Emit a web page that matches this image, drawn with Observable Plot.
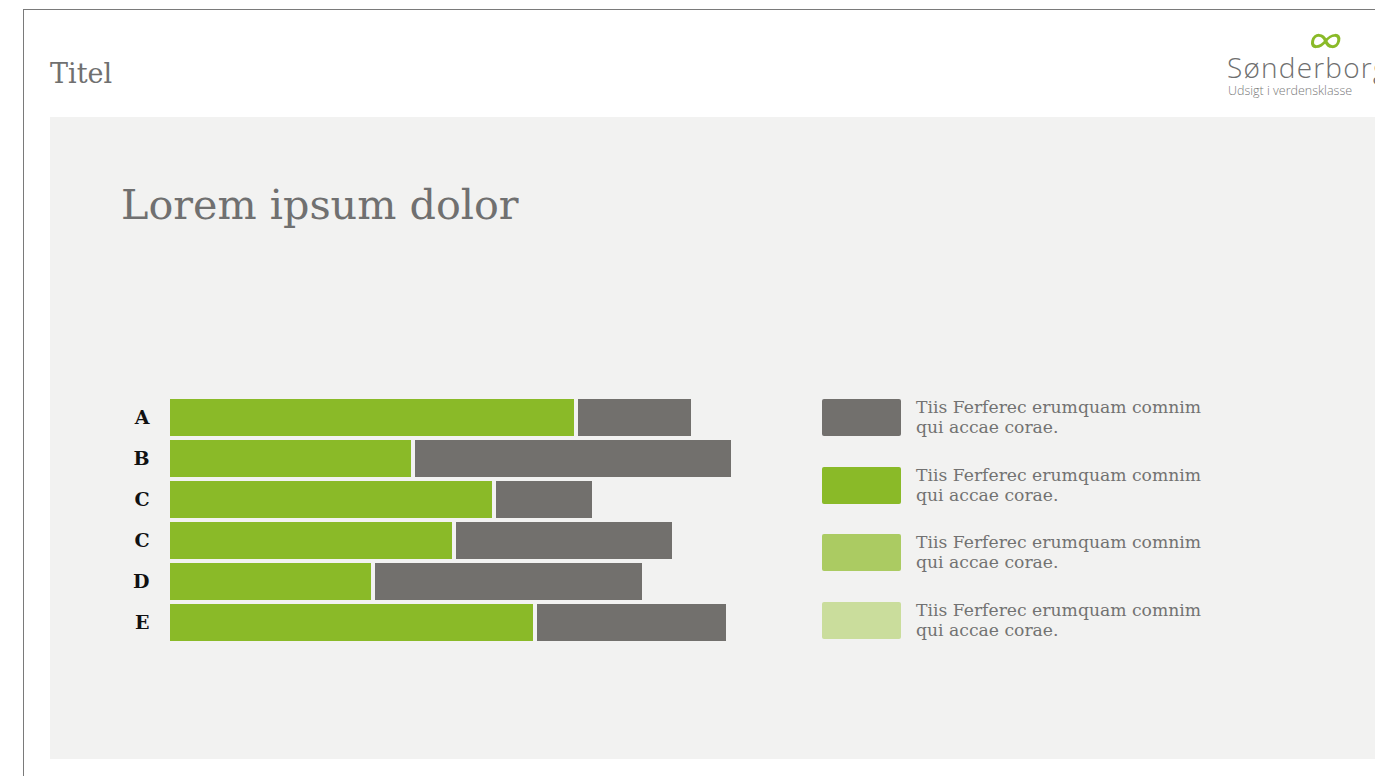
<!DOCTYPE html>
<html>
<head>
<meta charset="utf-8">
<script src="https://cdn.jsdelivr.net/npm/d3@7"></script>
<script src="https://cdn.jsdelivr.net/npm/@observablehq/plot@0.6"></script>
<style>
  html, body { margin: 0; padding: 0; background: #fff; overflow: hidden; }
  #page { position: relative; width: 1375px; height: 776px; overflow: hidden; font-family: "DejaVu Serif", serif; }
  .abs { position: absolute; }
  #frameTop { left: 23px; top: 9px; width: 1400px; height: 0; border-top: 1.5px solid #7a7a7a; }
  #frameLeft { left: 23px; top: 9px; width: 0; height: 800px; border-left: 1.5px solid #7a7a7a; }
  #panel { left: 50px; top: 117px; width: 1340px; height: 642px; background: #f2f2f1; }
  #titel { left: 50px; top: 60px; font-size: 27px; color: #707070; line-height: 1; }
  #heading { left: 121px; top: 185px; font-size: 41.3px; color: #707070; line-height: 1; }
  #logo-name { left: 1227px; top: 53px; font-family: "Open Sans", sans-serif; font-weight: 300; font-size: 28px; letter-spacing: 1.2px; color: #6f6f6f; line-height: 1; white-space: nowrap; }
  #logo-sub { left: 1228px; top: 85px; font-family: "Open Sans", sans-serif; font-weight: 300; font-size: 12.5px; color: #7a7a7a; line-height: 1; white-space: nowrap; }
  #chart { left: 120px; top: 389px; }
  .sw { position: absolute; left: 822px; width: 79px; height: 37px; border-radius: 2px; }
  .lt { position: absolute; left: 916px; font-size: 17.2px; line-height: 20px; color: #727272; white-space: nowrap; }
</style>
</head>
<body>
<div id="page">
  <div id="frameTop" class="abs"></div>
  <div id="frameLeft" class="abs"></div>
  <div id="panel" class="abs"></div>
  <div id="titel" class="abs">Titel</div>
  <svg class="abs" style="left:1305px;top:30px" width="44" height="22" viewBox="0 0 44 22">
    <g transform="translate(4,0) skewX(-12)">
      <path d="M19,11 C15,4 6,3 6,11 C6,19 15,18 19,11 C23,4 32,3 32,11 C32,19 23,18 19,11 Z" fill="none" stroke="#8aba28" stroke-width="3"/>
    </g>
  </svg>
  <div id="logo-name" class="abs">Sønderborg</div>
  <div id="logo-sub" class="abs">Udsigt i verdensklasse</div>
  <div id="heading" class="abs">Lorem ipsum dolor</div>
  <div id="chart" class="abs"></div>
  <div id="legend"></div>
</div>
<script>
const categories = ["A", "B", "C", "C", "D", "E"];
const greenValues = [80.8, 48.2, 64.4, 56.4, 40.2, 72.6];
const grayValues = [23.4, 64, 20, 44, 54.2, 38.6];
const legendLabels = [
  ["Tiis Ferferec erumquam comnim", "qui accae corae."],
  ["Tiis Ferferec erumquam comnim", "qui accae corae."],
  ["Tiis Ferferec erumquam comnim", "qui accae corae."],
  ["Tiis Ferferec erumquam comnim", "qui accae corae."]
];

const GREEN = "#8aba28";
const GRAY = "#72706d";
const legendColors = [GRAY, GREEN, "#abcb62", "#cadd9c"];

const rows = categories.map((c, i) => ({i, cat: c, green: greenValues[i], gray: grayValues[i]}));

const chart = Plot.plot({
  width: 680,
  height: 262,
  marginLeft: 50,
  marginRight: 30,
  marginTop: 5,
  marginBottom: 6,
  style: {background: "transparent", fontFamily: "DejaVu Serif, serif", overflow: "visible"},
  x: {domain: [0, 120], axis: null},
  y: {domain: d3.range(categories.length), padding: 0.1, axis: null},
  marks: [
    Plot.barX(rows, {y: "i", x1: 0, x2: "green", fill: GREEN}),
    Plot.barX(rows, {y: "i", x1: "green", x2: d => d.green + d.gray, fill: GRAY, insetLeft: 4}),
    Plot.axisY({
      label: null,
      tickSize: 0,
      tickPadding: 21,
      fontSize: 19,
      fontWeight: "bold",
      fill: "#111",
      tickFormat: i => categories[i]
    })
  ]
});
document.getElementById("chart").appendChild(chart);

const legend = document.getElementById("legend");
legendLabels.forEach((lines, k) => {
  const top = 399 + k * 67.7;
  const sw = document.createElement("div");
  sw.className = "sw";
  sw.style.top = top + "px";
  sw.style.background = legendColors[k];
  legend.appendChild(sw);
  const t = document.createElement("div");
  t.className = "lt";
  t.style.top = (top - 2) + "px";
  t.innerHTML = lines.join("<br>");
  legend.appendChild(t);
});
</script>
</body>
</html>
